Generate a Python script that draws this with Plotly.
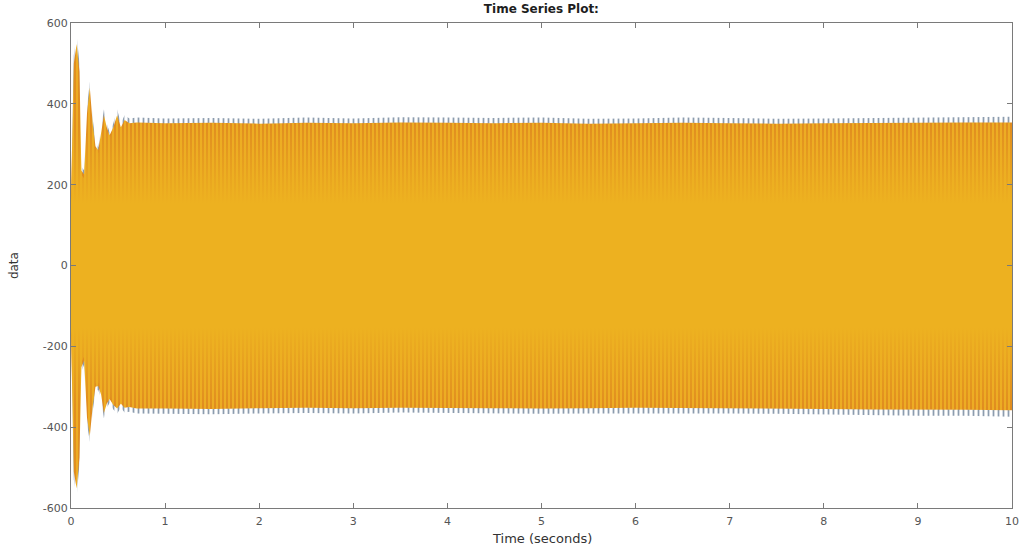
import plotly.graph_objects as go

# Envelope knots (seconds) shared by the three phase signals
t_knots = [0.00, 0.03, 0.06, 0.09, 0.11, 0.14, 0.17, 0.20, 0.23, 0.26,
           0.29, 0.32, 0.35, 0.38, 0.41, 0.45, 0.49, 0.53, 0.57, 0.62,
           0.70, 1.0, 1.5, 2.0, 2.5, 3.0, 3.5, 4.0, 4.5, 5.0,
           5.5, 6.0, 6.5, 7.0, 7.5, 8.0, 8.5, 9.0, 9.5, 10.0]

# Phase A (blue) peak envelope
a_upper = [180, 520, 570, 500, 245, 235, 390, 455, 365, 305,
           292, 340, 386, 352, 330, 352, 386, 352, 372, 364,
           366, 364, 365, 363, 366, 364, 367, 366, 365, 366,
           363, 364, 366, 365, 363, 364, 365, 366, 367, 368]
a_lower = [-180, -530, -573, -490, -262, -245, -390, -437, -362, -310,
           -308, -330, -378, -352, -340, -356, -366, -352, -364, -362,
           -366, -367, -368, -366, -365, -366, -364, -365, -366, -367,
           -366, -365, -366, -366, -367, -368, -370, -372, -372, -374]

# Phase B (orange) peak envelope
b_upper = [170, 500, 548, 480, 235, 225, 376, 440, 352, 295,
           285, 330, 372, 342, 322, 342, 372, 342, 360, 352,
           354, 352, 353, 351, 353, 352, 354, 353, 352, 353,
           351, 352, 353, 352, 351, 352, 353, 353, 354, 354]
b_lower = [-170, -510, -552, -475, -252, -235, -376, -422, -350, -300,
           -298, -320, -365, -342, -330, -345, -354, -342, -352, -350,
           -354, -354, -355, -353, -352, -353, -352, -352, -353, -354,
           -353, -352, -353, -353, -354, -355, -356, -357, -357, -358]

# Phase C (yellow) peak envelope
c_upper = [160, 470, 510, 450, 225, 215, 360, 420, 338, 285,
           278, 318, 355, 332, 315, 334, 355, 334, 346, 343,
           345, 344, 345, 343, 345, 344, 345, 345, 344, 345,
           343, 344, 345, 344, 343, 344, 345, 345, 346, 346]
c_lower = [-160, -480, -520, -450, -240, -225, -360, -405, -338, -290,
           -290, -310, -350, -333, -322, -336, -345, -334, -343, -342,
           -345, -345, -346, -345, -344, -345, -344, -344, -345, -346,
           -345, -344, -345, -345, -346, -347, -348, -349, -349, -350]

x_ticks = [0, 1, 2, 3, 4, 5, 6, 7, 8, 9, 10]
y_ticks = [-600, -400, -200, 0, 200, 400, 600]


def band(upper, lower):
    xs = list(t_knots) + list(reversed(t_knots))
    ys = list(upper) + list(reversed(lower))
    return xs, ys


fig = go.Figure()

# Phase A: only its peaks poke out past the other phases
xa, ya = band(a_upper, a_lower)
fig.add_trace(go.Scatter(
    x=xa, y=ya, mode="lines", fill="toself",
    line=dict(width=0), fillcolor="rgba(0,0,0,0)",
    fillpattern=dict(shape="|", fgcolor="#8c9cae", bgcolor="rgba(255,255,255,0)",
                     size=5, solidity=0.35, fillmode="replace"),
    hoverinfo="skip", showlegend=False,
))

# Phase B: orange, striped by the dense oscillation
xb, yb = band(b_upper, b_lower)
fig.add_trace(go.Scatter(
    x=xb, y=yb, mode="lines", fill="toself",
    line=dict(width=0),
    fillpattern=dict(shape="|", fgcolor="#EDAC24", bgcolor="#E08C1F",
                     size=4, solidity=0.5, fillmode="replace"),
    hoverinfo="skip", showlegend=False,
))

# Phase C: yellow, drawn last, most opaque near the centre
xc, yc = band(c_upper, c_lower)
fig.add_trace(go.Scatter(
    x=xc, y=yc, mode="lines", fill="toself",
    line=dict(width=0),
    fillgradient=dict(
        type="vertical", start=-345, stop=345,
        colorscale=[[0.0, "rgba(237,177,32,0.05)"],
                    [0.12, "rgba(237,177,32,0.45)"],
                    [0.28, "rgba(237,177,32,1)"],
                    [0.72, "rgba(237,177,32,1)"],
                    [0.88, "rgba(237,177,32,0.45)"],
                    [1.0, "rgba(237,177,32,0.05)"]],
    ),
    hoverinfo="skip", showlegend=False,
))

axis_color = "#7a7a7a"
font_color = "#555555"

fig.update_layout(
    width=1024, height=551,
    margin=dict(l=71, r=12, t=23, b=43),
    paper_bgcolor="white", plot_bgcolor="white",
    font=dict(family="DejaVu Sans, sans-serif", size=11, color=font_color),
    title=dict(text="<b>Time Series Plot:</b>", x=0.5287, xanchor="center",
               y=0.991, yanchor="top", font=dict(size=12, color="#1e1e1e")),
    xaxis=dict(
        range=[0, 10], tickvals=x_ticks, ticktext=[str(v) for v in x_ticks],
        ticks="inside", ticklen=5, tickcolor=axis_color, mirror="ticks",
        showline=True, linecolor=axis_color, linewidth=1,
        showgrid=False, zeroline=False, tickfont=dict(size=11),
        ticklabelstandoff=3, automargin=False,
    ),
    yaxis=dict(
        range=[-600, 600], tickvals=y_ticks, ticktext=[str(v) for v in y_ticks],
        ticks="inside", ticklen=5, tickcolor=axis_color, mirror="ticks",
        showline=True, linecolor=axis_color, linewidth=1,
        showgrid=False, zeroline=False, tickfont=dict(size=11),
        ticklabelstandoff=0, automargin=False,
    ),
    annotations=[
        dict(text="Time (seconds)", xref="paper", yref="paper",
             x=0.5, y=-0.062, xanchor="center", yanchor="middle",
             showarrow=False, font=dict(size=13, color="#333333")),
        dict(text="data", xref="paper", yref="paper",
             x=-0.061, y=0.5, xanchor="center", yanchor="middle",
             textangle=-90, showarrow=False, font=dict(size=12, color="#333333")),
    ],
)

fig.write_html("out.html")
